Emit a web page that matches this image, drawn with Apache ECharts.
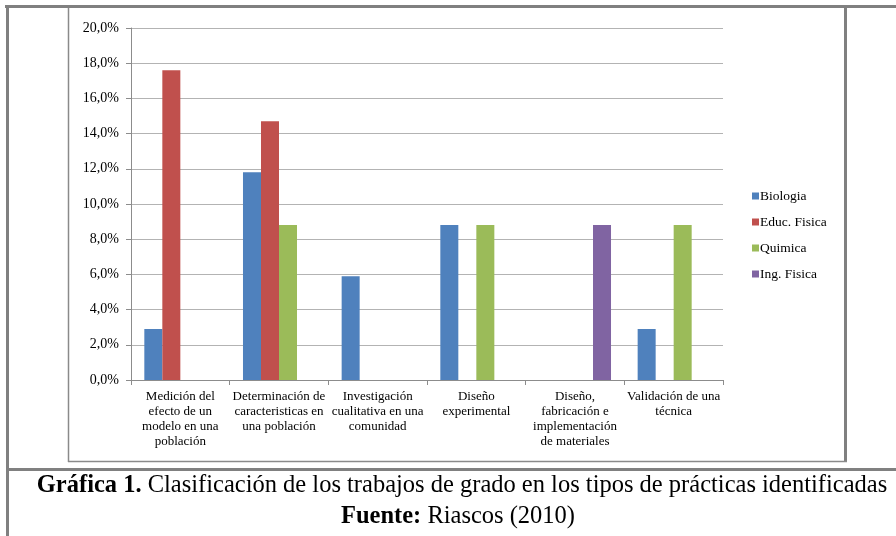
<!DOCTYPE html>
<html>
<head>
<meta charset="utf-8">
<script src="https://cdn.jsdelivr.net/npm/echarts@6/dist/echarts.min.js"></script>
<style>html,body{margin:0;padding:0;background:#fff;}#c{width:896px;height:536px;}</style>
</head>
<body>
<div id="c"></div>
<script>
const categories = [
  "Medición del\nefecto de un\nmodelo en una\npoblación",
  "Determinación de\ncaracteristicas en\nuna población",
  "Investigación\ncualitativa en una\ncomunidad",
  "Diseño\nexperimental",
  "Diseño,\nfabricación e\nimplementación\nde materiales",
  "Validación de una\ntécnica"
];
const seriesNames = ["Biologia", "Educ. Fisica", "Quimica", "Ing. Fisica"];
const biologia   = [2.9, 11.8, 5.9, 8.8, null, 2.9];
const educFisica = [17.6, 14.7, null, null, null, null];
const quimica    = [null, 8.8, null, 8.8, null, 8.8];
const ingFisica  = [null, null, null, null, 8.8, null];
const yTicks = { min: 0, max: 20, interval: 2 };
const captionMain = "Clasificación de los trabajos de grado en los tipos de prácticas identificadas";
const captionBold = "Gráfica 1.";
const sourceBold = "Fuente:";
const sourceText = "Riascos (2010)";

const colors = ["#4F81BD", "#C0504D", "#9BBB59", "#8064A2"];
const serif = "Liberation Serif";
const seriesData = [biologia, educFisica, quimica, ingFisica];

const chart = echarts.init(document.getElementById('c'));
const frameColor = "#808080";
chart.setOption({
  animation: false,
  color: colors,
  textStyle: { fontFamily: serif },
  grid: { left: 131, right: 173, top: 28, bottom: 156 },
  legend: {
    orient: 'vertical',
    left: 747, top: 184,
    icon: 'rect', itemWidth: 7, itemHeight: 7, itemGap: 12,
    textStyle: { fontFamily: serif, fontSize: 13.5, color: '#000', padding: [0,0,0,-4] },
    data: seriesNames
  },
  xAxis: {
    type: 'category',
    data: categories,
    axisLine: { lineStyle: { color: '#8c8c8c', width: 1 } },
    axisTick: { show: true, alignWithLabel: false, length: 5, lineStyle: { color: '#8c8c8c' } },
    axisLabel: { interval: 0, fontFamily: serif, fontSize: 13, color: '#000', lineHeight: 15, margin: 9 }
  },
  yAxis: {
    type: 'value',
    min: yTicks.min, max: yTicks.max, interval: yTicks.interval,
    axisLine: { show: true, lineStyle: { color: '#8c8c8c', width: 1 } },
    axisTick: { show: true, length: 5, lineStyle: { color: '#8c8c8c' } },
    axisLabel: { fontFamily: serif, fontSize: 14, color: '#000', margin: 12,
      formatter: v => v.toFixed(1).replace('.', ',') + '%' },
    splitLine: { lineStyle: { color: '#b3b3b3', width: 1 } }
  },
  series: seriesNames.map((n, i) => ({
    name: n, type: 'bar', data: seriesData[i],
    barGap: '0%', barCategoryGap: '27%',
    itemStyle: { color: colors[i] }
  })),
  graphic: [
    { type: 'line', shape: { x1: 5, y1: 6.5, x2: 896, y2: 6.5 }, style: { stroke: frameColor, lineWidth: 3 } },
    { type: 'line', shape: { x1: 7.5, y1: 5, x2: 7.5, y2: 536 }, style: { stroke: frameColor, lineWidth: 3 } },
    { type: 'line', shape: { x1: 68.5, y1: 8, x2: 68.5, y2: 462 }, style: { stroke: '#8a8a8a', lineWidth: 1.5 } },
    { type: 'line', shape: { x1: 845.5, y1: 8, x2: 845.5, y2: 462 }, style: { stroke: frameColor, lineWidth: 3 } },
    { type: 'line', shape: { x1: 68, y1: 461.5, x2: 847, y2: 461.5 }, style: { stroke: '#8a8a8a', lineWidth: 1.5 } },
    { type: 'line', shape: { x1: 7, y1: 469.5, x2: 896, y2: 469.5 }, style: { stroke: frameColor, lineWidth: 3 } },
    { type: 'text', x: 462, y: 486,
      style: {
        text: '{b|' + captionBold + '} ' + captionMain,
        font: '24.5px ' + serif, fill: '#000', align: 'center', verticalAlign: 'middle',
        rich: { b: { fontWeight: 'bold', fontSize: 24.5, fontFamily: serif, fill: '#000' } }
      } },
    { type: 'text', x: 458, y: 517,
      style: {
        text: '{b|' + sourceBold + '} ' + sourceText,
        font: '24.5px ' + serif, fill: '#000', align: 'center', verticalAlign: 'middle',
        rich: { b: { fontWeight: 'bold', fontSize: 24.5, fontFamily: serif, fill: '#000' } }
      } }
  ]
});
</script>
</body>
</html>
